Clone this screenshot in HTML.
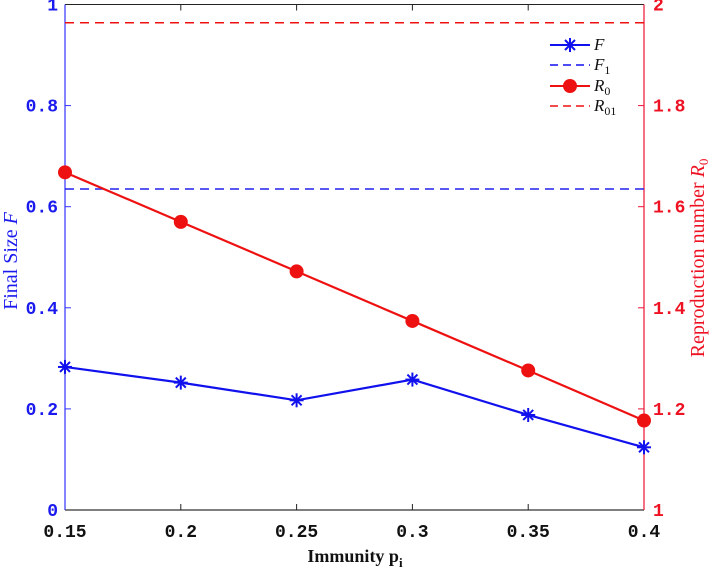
<!DOCTYPE html>
<html><head><meta charset="utf-8"><style>
html,body{margin:0;padding:0;background:#fff;}
svg{display:block;}
.tk{font-family:"Liberation Mono",monospace;font-weight:bold;font-size:18px;}
</style></head><body>
<svg id="chart" width="710" height="571" xmlns="http://www.w3.org/2000/svg"></svg>
<script>
const categories=[0.15,0.2,0.25,0.3,0.35,0.4];
const finalSize=[0.283,0.252,0.217,0.258,0.188,0.124];
const r0Values=[1.668,1.570,1.472,1.374,1.276,1.177];
const f1Value=[0.635];
const r01Value=[1.964];
const xTicks=["0.15","0.2","0.25","0.3","0.35","0.4"];
const yLeftTicks=["0","0.2","0.4","0.6","0.8","1"];
const yRightTicks=["1","1.2","1.4","1.6","1.8","2"];

const L=65,R=644,T=4.5,B=510;
const x=v=>L+(v-0.15)/(0.25)*(R-L);
const yl=v=>B-v*(B-T);
const yr=v=>B-(v-1)*(B-T);
const svg=document.getElementById('chart');
const NS='http://www.w3.org/2000/svg';
function mk(tag,attrs,parent){const e=document.createElementNS(NS,tag);for(const k in attrs)e.setAttribute(k,attrs[k]);(parent||svg).appendChild(e);return e;}

let e;
e=mk('line',{x1:L,y1:T,x2:R,y2:T,stroke:'#222','stroke-width':1});


e=mk('line',{x1:L,y1:B,x2:R,y2:B,stroke:'#333','stroke-width':1.2});


e=mk('line',{x1:L,y1:T,x2:L,y2:B,stroke:'#3333ff','stroke-width':1.2});


e=mk('line',{x1:R,y1:T,x2:R,y2:B,stroke:'#ee1133','stroke-width':1.2});



categories.forEach((c,i)=>{
  const px=x(c);
  if(i>0&&i<categories.length-1){
    let t=mk('line',{x1:px,y1:B,x2:px,y2:B-6,stroke:'#222'});
    
    
    t=mk('line',{x1:px,y1:T,x2:px,y2:T+6,stroke:'#222'});
    
    
  }
  const lb=mk('text',{x:px,y:537,'text-anchor':'middle',class:'tk',fill:'#111'});
  lb.textContent=xTicks[i];
  
  
});
yLeftTicks.forEach((s,i)=>{
  const v=i*0.2, py=yl(v);
  if(i>0&&i<5){const t=mk('line',{x1:L,y1:py,x2:L+6,y2:py,stroke:'#3333ff'});
  
  }
  const lb=mk('text',{x:L-7,y:py+6,'text-anchor':'end',class:'tk',fill:'#1a1aee'});
  lb.textContent=s;
  
  
});
yRightTicks.forEach((s,i)=>{
  const v=1+i*0.2, py=yr(v);
  if(i>0&&i<5){const t=mk('line',{x1:R,y1:py,x2:R-6,y2:py,stroke:'#ee1133'});
  
  }
  const lb=mk('text',{x:R+9,y:py+6,'text-anchor':'start',class:'tk',fill:'#ee1122'});
  lb.textContent=s;
  
  
});

e=mk('line',{x1:L,y1:yl(f1Value[0]),x2:R,y2:yl(f1Value[0]),stroke:'#2222ee','stroke-width':1.5,'stroke-dasharray':'9,6'});


e=mk('line',{x1:L,y1:yr(r01Value[0]),x2:R,y2:yr(r01Value[0]),stroke:'#ee1111','stroke-width':1.5,'stroke-dasharray':'9,6'});



e=mk('polyline',{points:categories.map((c,i)=>x(c)+','+yr(r0Values[i])).join(' '),fill:'none',stroke:'#ee1111','stroke-width':2.2});


categories.forEach((c,i)=>{
  const d=mk('circle',{cx:x(c),cy:yr(r0Values[i]),r:7,fill:'#ee1111'});
  
  
});
e=mk('polyline',{points:categories.map((c,i)=>x(c)+','+yl(finalSize[i])).join(' '),fill:'none',stroke:'#1111ee','stroke-width':2.2});


function star(cx,cy,name){
  const g=mk('g',{stroke:'#1111ee','stroke-width':2});
  
  
  const s=7;
  mk('line',{x1:cx-s,y1:cy,x2:cx+s,y2:cy},g);
  mk('line',{x1:cx,y1:cy-s,x2:cx,y2:cy+s},g);
  mk('line',{x1:cx-5,y1:cy-5,x2:cx+5,y2:cy+5},g);
  mk('line',{x1:cx-5,y1:cy+5,x2:cx+5,y2:cy-5},g);
}
categories.forEach((c,i)=>star(x(c),yl(finalSize[i]),'final-size-point'));
</script>
<svg style="position:absolute;left:0;top:0" width="710" height="571" xmlns="http://www.w3.org/2000/svg">
  <g font-family="Liberation Serif, serif" font-style="italic" font-size="17">
    <g>
      <line x1="550" y1="45" x2="590" y2="45" stroke="#1111ee" stroke-width="2"/>
      <g stroke="#1111ee" stroke-width="2"><line x1="563" y1="45" x2="577" y2="45"/><line x1="570" y1="38" x2="570" y2="52"/><line x1="565" y1="40" x2="575" y2="50"/><line x1="565" y1="50" x2="575" y2="40"/></g>
      <text x="594" y="50" fill="#111">F</text>
    </g>
    <g>
      <line x1="550" y1="65" x2="590" y2="65" stroke="#1111ee" stroke-width="1.5" stroke-dasharray="8,5"/>
      <text x="594" y="70" fill="#111">F<tspan font-style="normal" font-size="12" dy="4">1</tspan></text>
    </g>
    <g>
      <line x1="550" y1="86" x2="590" y2="86" stroke="#ee1111" stroke-width="2"/>
      <circle cx="570" cy="86" r="7" fill="#ee1111"/>
      <text x="594" y="91" fill="#111">R<tspan font-style="normal" font-size="12" dy="4">0</tspan></text>
    </g>
    <g>
      <line x1="550" y1="106" x2="590" y2="106" stroke="#ee1111" stroke-width="1.5" stroke-dasharray="8,5"/>
      <text x="594" y="111" fill="#111">R<tspan font-style="normal" font-size="12" dy="4">01</tspan></text>
    </g>
  </g>
  <text x="355" y="562" text-anchor="middle" font-family="Liberation Serif, serif" font-weight="bold" font-size="18" fill="#111">Immunity p<tspan font-size="13" dy="5">i</tspan></text>
  <text transform="translate(17,261) rotate(-90)" text-anchor="middle" font-family="Liberation Serif, serif" font-size="20" fill="#1a1aee">Final Size <tspan font-style="italic">F</tspan></text>
  <text transform="translate(704,258) rotate(-90)" text-anchor="middle" font-family="Liberation Serif, serif" font-size="20" fill="#ee1122">Reproduction number <tspan font-style="italic">R</tspan><tspan font-size="13" dy="4">0</tspan></text>
</svg>
</body></html>
